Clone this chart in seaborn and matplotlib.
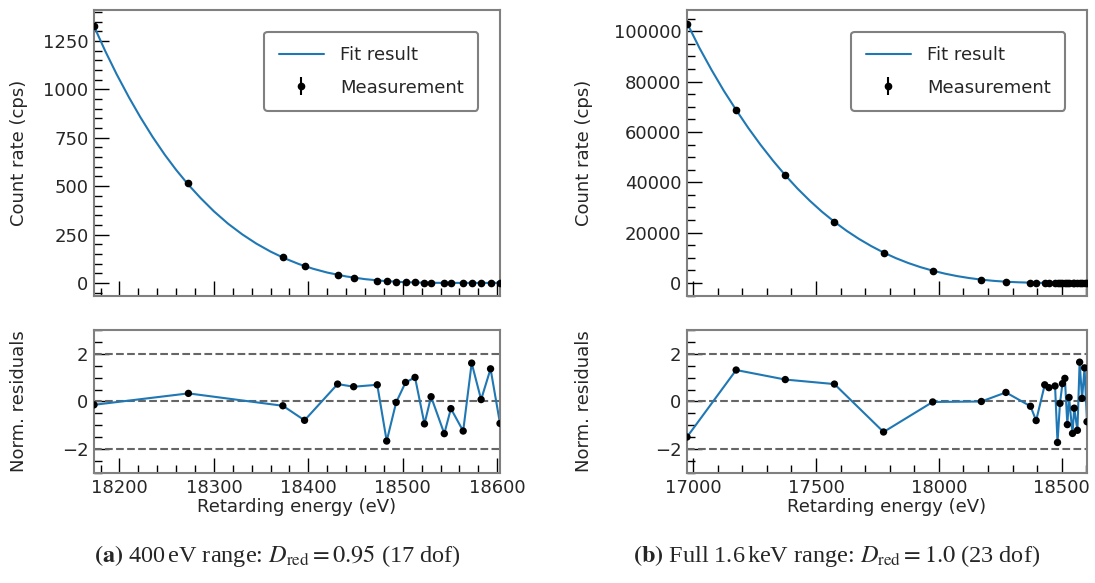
import matplotlib
matplotlib.use("Agg")
import matplotlib.pyplot as plt
import numpy as np
import pandas as pd
import seaborn as sns
from matplotlib.ticker import AutoMinorLocator, MultipleLocator

# ---------------- data ----------------
energy_low = [16975, 17175, 17375, 17575, 17775, 17975]
rate_low = [103000, 68750, 42800, 24300, 12100, 4900]
err_low = [120, 100, 80, 60, 45, 30]

energy_common = [18173, 18273, 18373, 18396, 18431, 18448, 18473, 18483, 18493, 18503,
                 18513, 18523, 18530, 18544, 18551, 18564, 18573, 18583, 18593, 18603]
rate_common = [1329, 518, 132, 86, 39, 26, 12, 9, 6.5, 4.4,
               2.9, 1.6, 1.0, 0.45, 0.3, 0.25, 0.25, 0.2, 0.2, 0.2]
err_common = [14, 9, 4.5, 3.6, 2.5, 2.0, 1.5, 1.3, 1.1, 1.0,
              0.9, 0.7, 0.6, 0.5, 0.45, 0.45, 0.45, 0.45, 0.45, 0.45]

resid_a = [-0.14, 0.34, -0.18, -0.79, 0.73, 0.62, 0.70, -1.66, -0.04, 0.80,
           1.01, -0.94, 0.20, -1.35, -0.30, -1.24, 1.61, 0.08, 1.37, -0.92]
resid_b = [-1.49, 1.32, 0.92, 0.73, -1.28, -0.02, 0.00, 0.38, -0.20, -0.80,
           0.70, 0.58, 0.65, -1.72, -0.08, 0.75, 0.97, -0.97, 0.17, -1.34,
           -0.28, -1.21, 1.65, 0.13, 1.41, -0.85]

# fit curves at regular energies
fit_a_energy = [18173, 18185, 18197, 18210, 18222, 18235, 18248, 18260, 18273, 18286,
                18300, 18315, 18330, 18345, 18360, 18375, 18390, 18405, 18420, 18440,
                18460, 18480, 18500, 18520, 18540, 18560, 18580, 18603]
fit_a_rate = [1326, 1197, 1078, 959, 857, 755, 662, 584, 507, 438,
              370, 306, 251, 203, 162, 127, 97.5, 73.3, 53.7, 33.7,
              19.6, 10.3, 4.6, 1.6, 0.34, 0.25, 0.2, 0.2]

fit_b_energy = [16975, 17025, 17075, 17125, 17175, 17225, 17275, 17325, 17375, 17425,
                17475, 17525, 17575, 17625, 17675, 17725, 17775, 17825, 17875, 17925,
                17975, 18025, 18075, 18125, 18175, 18225, 18275, 18325, 18375, 18425,
                18475, 18525, 18575, 18603]
fit_b_rate = [103300, 93500, 84630, 76345, 68750, 61510, 54810, 48595, 42800, 37487,
              32655, 28248, 24300, 20710, 17502, 14650, 12100, 9877, 7953, 6299,
              4900, 3704, 2726, 1943, 1310, 831, 500, 272, 127, 48,
              12, 1.3, 0.2, 0.2]

captions = [r"$\mathbf{(a)}$ 400$\,$eV range: $D_\mathrm{red} = 0.95$ (17 dof)",
            r"$\mathbf{(b)}$ Full 1.6$\,$keV range: $D_\mathrm{red} = 1.0$ (23 dof)"]

# ---------------- style ----------------
sns.set_theme(style="ticks")
plt.rcParams.update({
    "font.family": ["DejaVu Sans"],
    "font.size": 13,
    "mathtext.fontset": "stix",
    "axes.edgecolor": "#808080",
    "axes.linewidth": 1.5,
    "axes.facecolor": "white",
    "figure.facecolor": "white",
})

BLUE = "#1f77b4"
SPINE = "#808080"

fig = plt.figure(figsize=(10.95, 5.83), dpi=100)

panels = [
    dict(left=94 / 1095, width=406 / 1095,
         E=energy_common, R=rate_common, err=err_common, res=resid_a,
         fE=fit_a_energy, fR=fit_a_rate, ylab_x=-0.163, cap_x=277 / 1095,
         cap=captions[0], xmajor=100),
    dict(left=687 / 1095, width=400 / 1095,
         E=energy_low + energy_common, R=rate_low + rate_common,
         err=err_low + err_common, res=resid_b,
         fE=fit_b_energy, fR=fit_b_rate, ylab_x=-0.235, cap_x=837 / 1095,
         cap=captions[1], xmajor=500),
]

def style_axes(ax, xmajor):
    ax.xaxis.set_major_locator(MultipleLocator(xmajor))
    ax.xaxis.set_minor_locator(AutoMinorLocator())
    ax.yaxis.set_minor_locator(AutoMinorLocator())
    ax.tick_params(which="both", direction="in", top=False, right=False,
                   color="black", labelsize=13, pad=4)
    ax.tick_params(which="major", length=10.5, width=1.0)
    ax.tick_params(which="minor", length=5.5, width=1.0)
    for sp in ax.spines.values():
        sp.set_visible(True)
        sp.set_color(SPINE)
        sp.set_linewidth(1.5)

for p in panels:
    ax = fig.add_axes([p["left"], 0.4923, p["width"], 0.4906])
    axr = fig.add_axes([p["left"], 0.1887, p["width"], 0.2453], sharex=ax)

    fit_df = pd.DataFrame({"E": p["fE"], "R": p["fR"]})
    sns.lineplot(data=fit_df, x="E", y="R", ax=ax, color=BLUE, lw=1.5,
                 label="Fit result", zorder=2, sort=False)
    ax.errorbar(p["E"], p["R"], yerr=p["err"], fmt="o", color="black",
                ms=4.5, elinewidth=1.5, capsize=0, label="Measurement", zorder=3)
    leg = ax.legend(loc="upper right", fontsize=13, frameon=True, fancybox=True,
                    framealpha=1, edgecolor=SPINE, borderaxespad=1.2,
                    handlelength=2.5, handletextpad=0.9, labelspacing=0.8,
                    borderpad=0.8)
    leg.get_frame().set_linewidth(1.5)
    ax.set_xlim(min(p["E"]), max(p["E"]))
    ax.set_xlabel("")
    ax.set_ylabel("Count rate (cps)", fontsize=13)
    ax.yaxis.set_label_coords(p["ylab_x"], 0.5)
    style_axes(ax, p["xmajor"])
    ax.tick_params(labelbottom=False)

    for yv in (-2, 0, 2):
        axr.axhline(yv, color="#666666", ls="--", lw=1.5, zorder=1)
    res_df = pd.DataFrame({"E": p["E"], "r": p["res"]})
    sns.lineplot(data=res_df, x="E", y="r", ax=axr, color=BLUE, lw=1.5,
                 zorder=2, sort=False)
    sns.scatterplot(data=res_df, x="E", y="r", ax=axr, color="black", s=28,
                    edgecolor="none", zorder=3, clip_on=True)
    axr.set_ylim(-3, 3)
    axr.set_yticks([-2, 0, 2])
    axr.set_xlim(min(p["E"]), max(p["E"]))
    axr.set_xlabel("Retarding energy (eV)", fontsize=13, labelpad=1)
    axr.set_ylabel("Norm. residuals", fontsize=13)
    axr.yaxis.set_label_coords(p["ylab_x"], 0.5)
    style_axes(axr, p["xmajor"])

    fig.text(p["cap_x"], 1 - 556 / 583, p["cap"], ha="center", va="center",
             fontsize=17.5, family=["Liberation Serif", "DejaVu Serif"])

fig.savefig("out.png", dpi=100)
